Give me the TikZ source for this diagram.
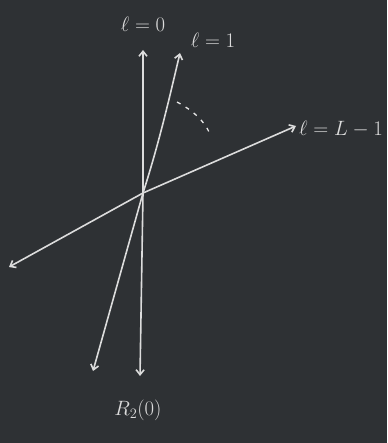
\documentclass[tikz,border=0pt]{standalone}
\usetikzlibrary{arrows.meta}
\definecolor{board}{HTML}{2E3134}
\definecolor{chalk}{HTML}{DCDCDC}
\begin{document}
\begin{tikzpicture}[x=1pt,y=-1pt,
  chalkline/.style={draw=chalk,line width=1.6pt,line cap=round},
  tip/.style={-{Straight Barb[length=5pt,width=8pt]}},
  lbl/.style={text=chalk,font=\huge,inner sep=0pt}]
\fill[board] (0,0) rectangle (387,443);
\useasboundingbox (0,0) rectangle (387,443);
\coordinate (O) at (143,193);
\coordinate (t0) at (143,50);
\coordinate (b0) at (140,376);
\coordinate (t1) at (180,53);
\coordinate (b1) at (93,371);
\coordinate (tr) at (296,126);
\coordinate (bl) at (9,267);
\coordinate (a1) at (177,102);
\coordinate (a2) at (210,134);
% l = 0 line
\draw[chalkline,tip] (O) -- (t0);
\draw[chalkline,tip] (O) -- (b0);
% l = 1 line
\draw[chalkline,tip] (O) .. controls (160,140) and (170,95) .. (t1);
\draw[chalkline,tip] (O) -- (b1);
% l = L-1 line
\draw[chalkline,tip] (O) -- (tr);
\draw[chalkline,tip] (O) -- (bl);
% dashed arc
\draw[draw=chalk!70,line width=1.3pt,dash pattern=on 4pt off 6pt] (a1) .. controls (192,110) and (204,120) .. (a2);
% labels
\node[lbl] (L0) at (143,24) {$\ell=0$};
\node[lbl] (L1) at (213,40) {$\ell=1$};
\node[lbl] (L2) at (341,129) {$\ell=L-1$};
\node[lbl] (R) at (138,410) {$R_2(0)$};
\end{tikzpicture}
\end{document}
